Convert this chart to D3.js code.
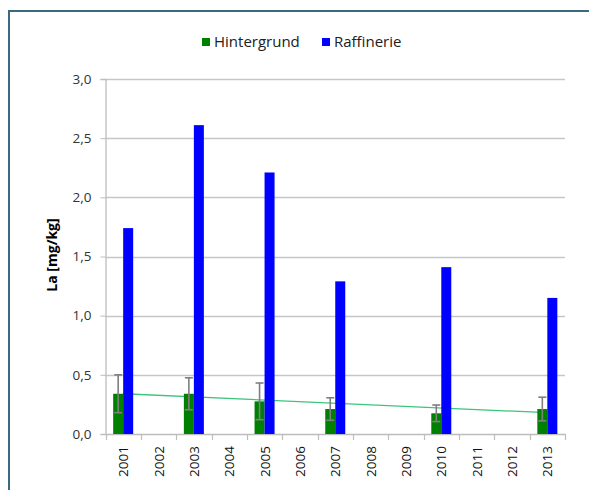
<!DOCTYPE html>
<html>
<head>
<meta charset="utf-8">
<script src="https://cdn.jsdelivr.net/npm/d3@7"></script>
<style>
  html, body { margin: 0; padding: 0; background: #fff; }
  svg { display: block; font-family: "Open Sans", sans-serif; }
</style>
</head>
<body>
<svg id="chart" width="589" height="490"></svg>
<script>
const years = ["2001","2002","2003","2004","2005","2006","2007","2008","2009","2010","2011","2012","2013"];
const hintergrund = [0.34, null, 0.34, null, 0.276, null, 0.211, null, null, 0.175, null, null, 0.211];
const hintergrundErr = [0.16, null, 0.135, null, 0.155, null, 0.095, null, null, 0.07, null, null, 0.1];
const raffinerie = [1.74, null, 2.61, null, 2.21, null, 1.29, null, null, 1.41, null, null, 1.15];
const trendEnds = [0.34, 0.18];
const yTicks = [0, 0.5, 1.0, 1.5, 2.0, 2.5, 3.0];
const seriesNames = ["Hintergrund", "Raffinerie"];
const seriesColors = ["#008000", "#0000ff"];

const svg = d3.select("#chart");
const L = 105.5, R = 565, T = 79, B = 434;

// border
svg.append("rect").attr("x", 9).attr("y", 11).attr("width", 700).attr("height", 600)
  .attr("fill", "none").attr("stroke", "#3b6a7f").attr("stroke-width", 2);

const x = d3.scaleBand().domain(years).range([L, R]).padding(0);
const y = d3.scaleLinear().domain([0, 3]).range([B, T]);

// gridlines
svg.append("g").selectAll("line").data(yTicks.filter(v => v > 0)).join("line")
  .attr("x1", L).attr("x2", R)
  .attr("y1", d => Math.round(y(d)) + 0.5).attr("y2", d => Math.round(y(d)) + 0.5)
  .attr("stroke", "#c6c6c6").attr("stroke-width", 1.6);

// y axis
const yAxis = d3.axisLeft(y).tickValues(yTicks).tickSize(5).tickPadding(9)
  .tickFormat(d => d3.format(".1f")(d).replace(".", ","));
const gy = svg.append("g").attr("transform", `translate(${L},0)`).call(yAxis);
gy.select(".domain").attr("stroke", "#bdbdbd").attr("stroke-width", 1.3);
gy.selectAll(".tick line").attr("stroke", "#bdbdbd");
gy.selectAll(".tick text").attr("font-size", 13.5).attr("fill", "#333")
  .attr("font-family", "Open Sans");

// x axis
const xAxis = d3.axisBottom(x).tickSize(0).tickPadding(0);
const gx = svg.append("g").attr("transform", `translate(0,${B})`).call(xAxis);
gx.select(".domain").attr("stroke", "#bdbdbd").attr("stroke-width", 1.6);
gx.selectAll(".tick text")
  .attr("font-size", 13.5).attr("fill", "#111").attr("font-family", "Open Sans")
  .attr("text-anchor", "end").attr("dy", null)
  .attr("transform", "translate(5,12) rotate(-90)").attr("x", 0).attr("y", 0);
// category boundary ticks
const bounds = years.map(d => x(d)).concat([x(years[years.length - 1]) + x.bandwidth()]);
svg.append("g").selectAll("line").data(bounds).join("line")
  .attr("x1", d => Math.round(d) + 0.5).attr("x2", d => Math.round(d) + 0.5)
  .attr("y1", B).attr("y2", B + 6).attr("stroke", "#bdbdbd").attr("stroke-width", 1.2);

// trendline (behind bars)
const cx = d => x(d) + x.bandwidth() / 2;
svg.append("line")
  .attr("x1", cx(years[0])).attr("x2", cx(years[years.length - 1]))
  .attr("y1", y(trendEnds[0])).attr("y2", y(trendEnds[1]))
  .attr("stroke", "#3cc47c").attr("stroke-width", 1.3);

const bw = 10;
// bars
const gData = years.map((d, i) => ({ year: d, v: hintergrund[i], e: hintergrundErr[i] })).filter(d => d.v != null);
const bData = years.map((d, i) => ({ year: d, v: raffinerie[i] })).filter(d => d.v != null);

svg.append("g").selectAll("rect").data(gData).join("rect")
  .attr("x", d => cx(d.year) - bw).attr("width", bw)
  .attr("y", d => y(d.v)).attr("height", d => B - y(d.v))
  .attr("fill", seriesColors[0]);
svg.append("g").selectAll("rect").data(bData).join("rect")
  .attr("x", d => cx(d.year)).attr("width", bw)
  .attr("y", d => y(d.v)).attr("height", d => B - y(d.v))
  .attr("fill", seriesColors[1]);

// error bars
const eg = svg.append("g").attr("stroke", "#7f7f7f").attr("stroke-width", 1.6);
gData.forEach(d => {
  const xc = cx(d.year) - bw / 2;
  eg.append("line").attr("x1", xc).attr("x2", xc).attr("y1", y(d.v + d.e)).attr("y2", y(d.v - d.e));
  eg.append("line").attr("x1", xc - 4).attr("x2", xc + 4).attr("y1", y(d.v + d.e)).attr("y2", y(d.v + d.e));
  eg.append("line").attr("x1", xc - 4).attr("x2", xc + 4).attr("y1", y(d.v - d.e)).attr("y2", y(d.v - d.e));
});

// y title
svg.append("text").attr("transform", "translate(57,255) rotate(-90)")
  .attr("text-anchor", "middle").attr("font-size", 14).attr("font-weight", "bold")
  .attr("fill", "#000").text("La [mg/kg]");

// legend
const legX = [202, 322];
const lg = svg.append("g");
seriesNames.forEach((n, i) => {
  lg.append("rect").attr("x", legX[i]).attr("y", 38).attr("width", 8).attr("height", 8).attr("fill", seriesColors[i]);
  lg.append("text").attr("x", legX[i] + 12).attr("y", 46.5).attr("font-size", 15)
    .attr("fill", "#202020").text(n);
});
</script>
</body>
</html>
